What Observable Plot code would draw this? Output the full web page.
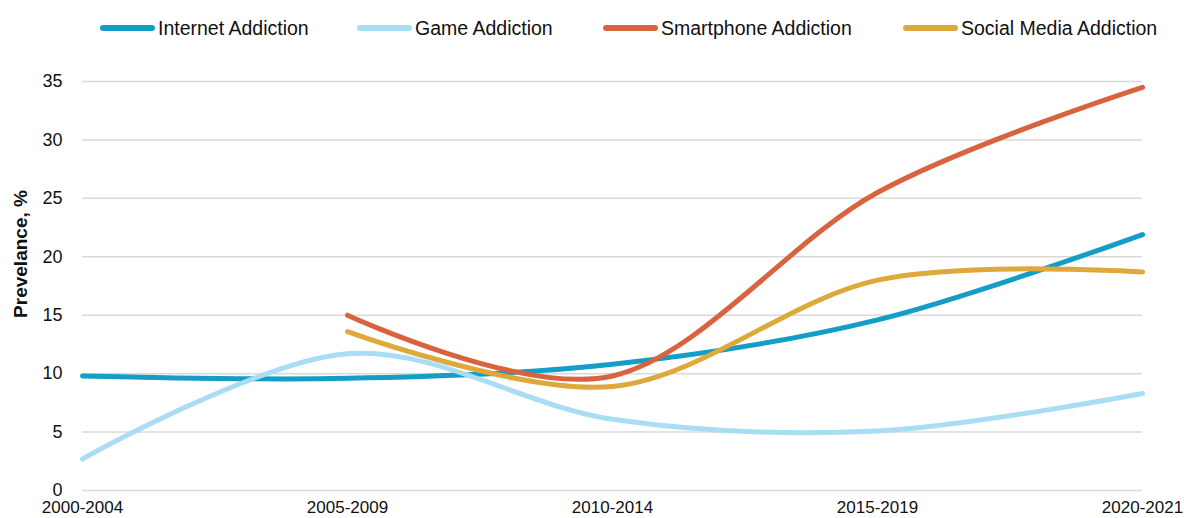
<!DOCTYPE html>
<html>
<head>
<meta charset="utf-8">
<script src="https://cdn.jsdelivr.net/npm/d3@7"></script>
<script src="https://cdn.jsdelivr.net/npm/@observablehq/plot@0.6"></script>
<style>
  html, body { margin: 0; padding: 0; background: #fff; }
  body { width: 1184px; height: 518px; overflow: hidden; font-family: "Liberation Sans", Arial, sans-serif; }
  #legend { position: relative; height: 56px; width: 1184px; }
  .item { position: absolute; top: 0; height: 56px; display: flex; align-items: center; font-size: 19.5px; color: #111; }
  .sw { width: 55px; height: 6px; border-radius: 3px; margin-right: 3px; }
  svg { display: block; }
</style>
</head>
<body>
<div id="legend"></div>
<div id="chart"></div>
<script>
const periods = ["2000-2004", "2005-2009", "2010-2014", "2015-2019", "2020-2021"];
const seriesNames = ["Internet Addiction", "Game Addiction", "Smartphone Addiction", "Social Media Addiction"];
const internet   = [9.8, 9.6, 10.8, 14.6, 21.9];
const game       = [2.7, 11.7, 6.1, 5.1, 8.3];
const smartphone = [null, 15.0, 9.8, 25.5, 34.5];
const social     = [null, 13.6, 8.9, 18.0, 18.7];
const yTicks = [0, 5, 10, 15, 20, 25, 30, 35];
const yLabel = "Prevelance, %";
const colors = ["#139dc7", "#a8ddf4", "#d9633f", "#dea83a"];
const legendLeft = [100, 357, 603, 903];

const valuesBySeries = [internet, game, smartphone, social];
const rows = [];
seriesNames.forEach((name, s) => {
  valuesBySeries[s].forEach((v, i) => {
    if (v != null) rows.push({series: name, period: periods[i], value: v});
  });
});

// legend
const legend = document.getElementById("legend");
seriesNames.forEach((name, i) => {
  const it = document.createElement("div");
  it.className = "item";
  it.style.left = legendLeft[i] + "px";
  const sw = document.createElement("span");
  sw.className = "sw";
  sw.style.background = colors[i];
  const tx = document.createElement("span");
  tx.textContent = name;
  it.append(sw, tx);
  legend.append(it);
});

const chart = Plot.plot({
  width: 1184,
  height: 462,
  marginTop: 25,
  marginBottom: 28,
  marginLeft: 82,
  marginRight: 42,
  style: {fontFamily: '"Liberation Sans", Arial, sans-serif', fontSize: "18px", color: "#111", background: "#fff"},
  x: {type: "point", domain: periods, padding: 0},
  y: {domain: [0, 35]},
  color: {domain: seriesNames, range: colors},
  marks: [
    Plot.gridY(yTicks, {stroke: "#d9d9d9", strokeOpacity: 1, strokeWidth: 1.5}),
    Plot.axisY(yTicks, {tickSize: 0, tickPadding: 20, label: null, fontSize: 18}),
    Plot.axisX({tickSize: 0, tickPadding: 10, label: null, fontSize: 17}),
    Plot.text([yLabel], {frameAnchor: "left", textAnchor: "middle", dx: -62, dy: -32, rotate: -90, fontWeight: "bold", fontSize: 19, fill: "#111"}),
    Plot.line(rows, {x: "period", y: "value", z: "series", stroke: "series", strokeWidth: 5, curve: "cardinal", strokeLinecap: "round"})
  ]
});
document.getElementById("chart").append(chart);
</script>
</body>
</html>
